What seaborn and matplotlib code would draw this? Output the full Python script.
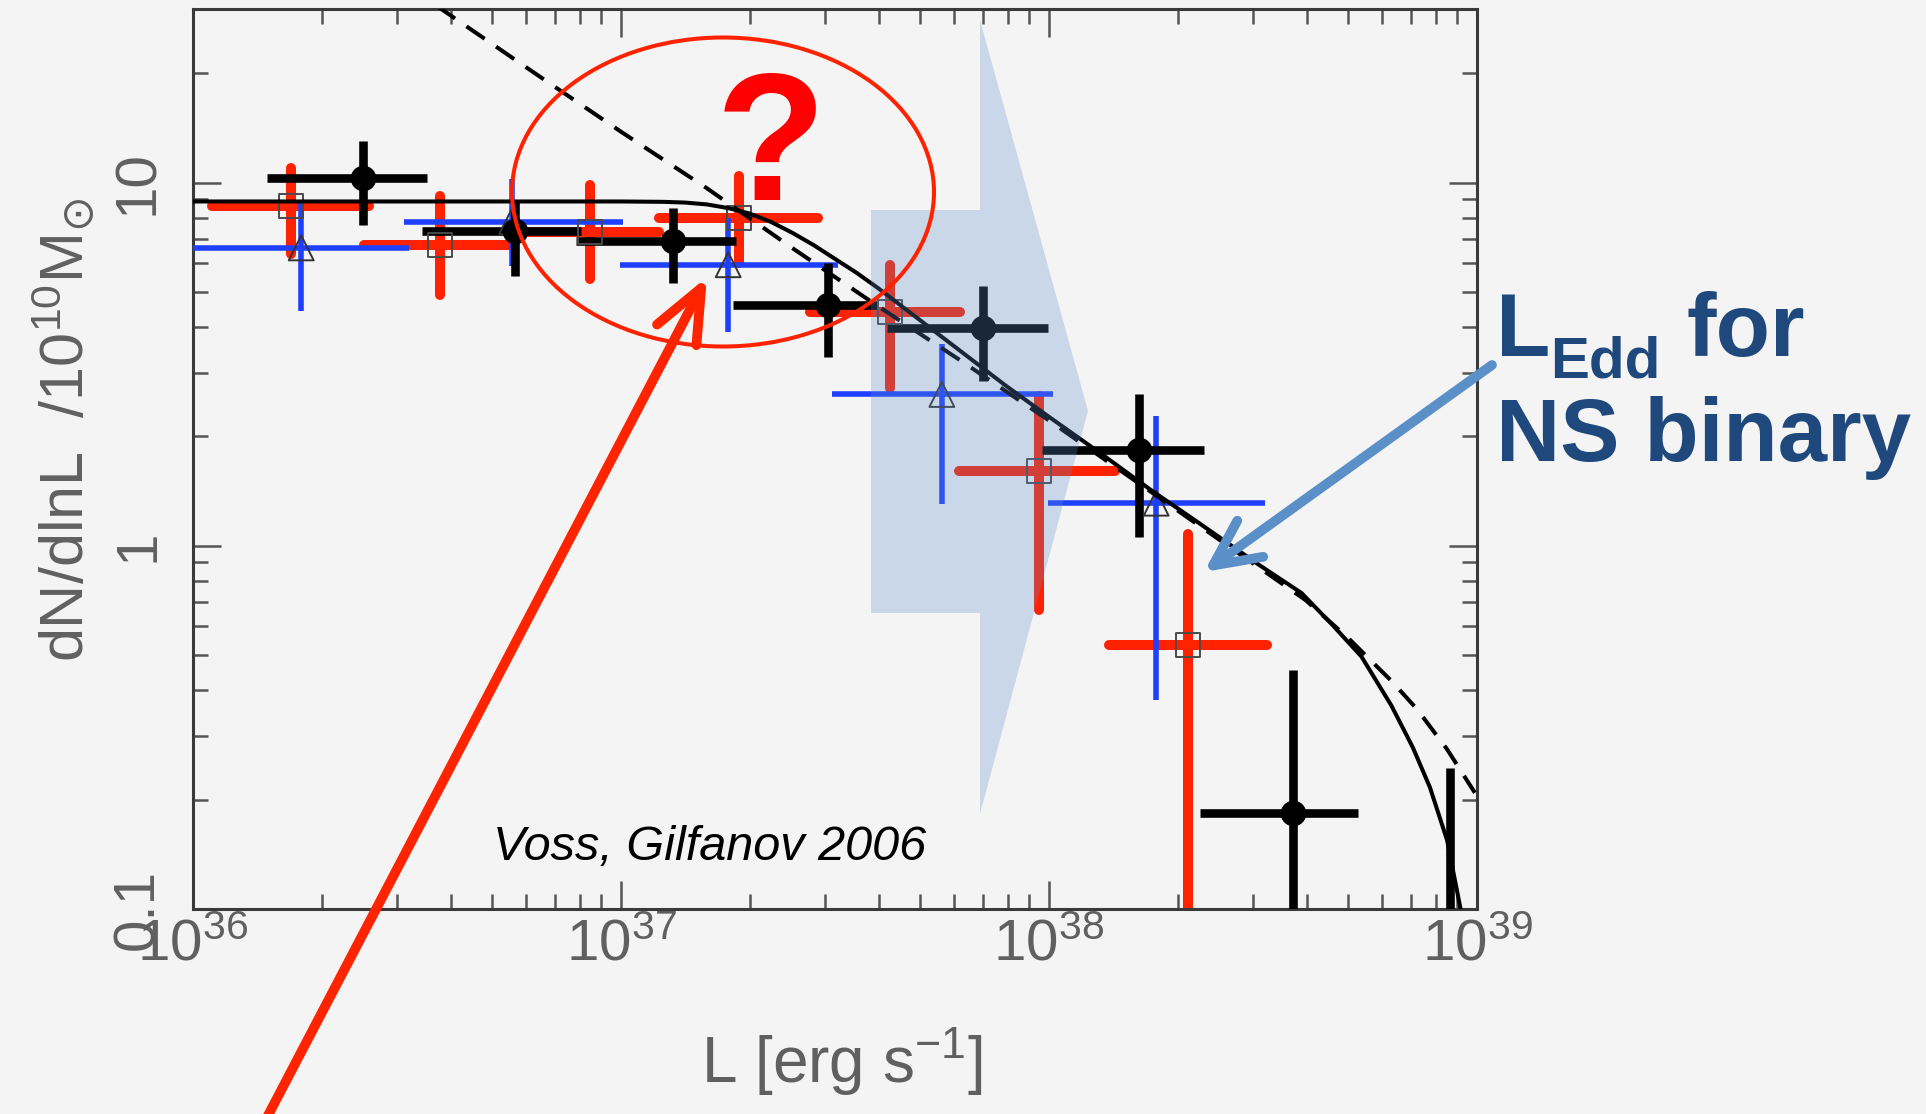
import numpy as np
import pandas as pd
import matplotlib
matplotlib.use("Agg")
import matplotlib.pyplot as plt
import seaborn as sns
from matplotlib.patches import Polygon, Ellipse, FancyArrowPatch
from matplotlib.ticker import LogLocator, NullFormatter

# ---------------- data ----------------
# black filled circles (L [erg/s], dN/dlnL)
bk_L   = [2.50e36, 5.65e36, 1.32e37, 3.05e37, 7.02e37, 1.62e38, 3.72e38]
bk_Llo = [1.49e36, 3.43e36, 7.87e36, 1.83e37, 4.18e37, 9.64e37, 2.25e38]
bk_Lhi = [3.53e36, 8.07e36, 1.86e37, 3.98e37, 9.93e37, 2.30e38, 5.27e38]
bk_y   = [10.3, 7.35, 6.9, 4.61, 3.98, 1.83, 0.184]
bk_ylo = [7.66, 5.52, 5.30, 3.32, 2.84, 1.06, 0.1]
bk_yhi = [13.0, 8.98, 8.51, 6.01, 5.18, 2.61, 0.455]
# black bar without visible point (last bin)
lim_L   = [8.63e38]
lim_ylo = [0.1]
lim_yhi = [0.244]

# red open squares
rd_L   = [1.69e36, 3.78e36, 8.47e36, 1.89e37, 4.25e37, 9.48e37, 2.11e38]
rd_Llo = [1.11e36, 2.51e36, 5.81e36, 1.23e37, 2.77e37, 6.15e37, 1.38e38]
rd_Lhi = [2.58e36, 5.62e36, 1.23e37, 2.88e37, 6.19e37, 1.43e38, 3.23e38]
rd_y   = [8.6, 6.75, 7.3, 8.0, 4.4, 1.61, 0.533]
rd_ylo = [6.34, 4.91, 5.41, 6.01, 2.72, 0.667, 0.1]
rd_yhi = [10.97, 9.17, 9.87, 10.4, 5.94, 2.58, 1.08]

# blue open triangles
bl_L   = [1.79e36, 5.55e36, 1.78e37, 5.62e37, 1.78e38]
bl_Llo = [0.99e36, 3.12e36, 9.95e36, 3.11e37, 9.95e37]
bl_Lhi = [3.20e36, 1.01e37, 3.22e37, 1.02e38, 3.20e38]
bl_y   = [6.61, 7.8, 5.94, 2.61, 1.31]
bl_ylo = [4.42, 5.9, 3.89, 1.30, 0.377]
bl_yhi = [8.81, 10.2, 8.0, 3.6, 2.27]

# model curves, read as log10 values
solid_logL = [36.0, 36.5, 37.0, 37.1, 37.15, 37.2, 37.25, 37.3, 37.35, 37.4, 37.45,
              37.5, 37.55, 37.6, 37.7, 37.8, 37.9, 38.0, 38.12, 38.24, 38.35, 38.49,
              38.59, 38.66, 38.73, 38.8, 38.85, 38.89, 38.93, 38.965]
solid_logy = [0.948, 0.948, 0.948, 0.947, 0.945, 0.940, 0.930, 0.915, 0.892, 0.862, 0.828,
              0.790, 0.752, 0.710, 0.620, 0.530, 0.440, 0.355, 0.255, 0.152, 0.063, -0.052,
              -0.130, -0.215, -0.305, -0.440, -0.555, -0.665, -0.810, -1.02]
dash_logL = [36.57, 36.8, 37.0, 37.2, 37.4, 37.6, 37.8, 38.0, 38.2, 38.4, 38.6, 38.7,
             38.8, 38.86, 38.93, 38.995]
dash_logy = [1.486, 1.300, 1.140, 0.985, 0.820, 0.660, 0.505, 0.345, 0.180, 0.015, -0.150,
             -0.255, -0.372, -0.450, -0.560, -0.680]

xtick_vals = [1e36, 1e37, 1e38, 1e39]
xtick_labels = [r"$\mathregular{10^{36}}$", r"$\mathregular{10^{37}}$",
                r"$\mathregular{10^{38}}$", r"$\mathregular{10^{39}}$"]
ytick_vals = [0.1, 1, 10]
ytick_labels = ["0.1", "1", "10"]

# ---------------- figure ----------------
W, H, DPI = 1926, 1114, 100
BG = "#f4f4f4"
GRAY = "#606060"
SANS = ["Liberation Sans", "DejaVu Sans"]

sns.set_theme(style="ticks")
plt.rcParams["font.family"] = SANS
plt.rcParams["mathtext.fontset"] = "dejavusans"
plt.rcParams["lines.scale_dashes"] = False

fig = plt.figure(figsize=(W / DPI, H / DPI), dpi=DPI, facecolor=BG)


def fx(px):
    return px / W


def fy(py):
    return 1 - py / H


ax = fig.add_axes([fx(193), fy(909), (1477 - 193) / W, (909 - 9.3) / H])
ax.set_facecolor(BG)
ax.set_xscale("log")
ax.set_yscale("log")
ax.set_xlim(1e36, 1e39)
ax.set_ylim(0.1, 30)


def bars(L, Llo, Lhi, y, ylo, yhi, color, lw, cap, z):
    ax.hlines(y, Llo, Lhi, colors=color, linewidth=lw, capstyle=cap, zorder=z)
    ax.vlines(L, ylo, yhi, colors=color, linewidth=lw, capstyle=cap, zorder=z)


RED = "#ff2200"
BLUE = "#1f3fff"
bars(rd_L, rd_Llo, rd_Lhi, rd_y, rd_ylo, rd_yhi, RED, 7.2, "round", 2)
bars(bl_L, bl_Llo, bl_Lhi, bl_y, bl_ylo, bl_yhi, BLUE, 4.0, "butt", 3)
bars(bk_L, bk_Llo, bk_Lhi, bk_y, bk_ylo, bk_yhi, "black", 6.2, "butt", 4)
ax.vlines(lim_L, lim_ylo, lim_yhi, colors="black", linewidth=6.2, zorder=4)

df_rd = pd.DataFrame({"L": rd_L, "y": rd_y})
df_bl = pd.DataFrame({"L": bl_L, "y": bl_y})
df_bk = pd.DataFrame({"L": bk_L, "y": bk_y})
sns.scatterplot(data=df_rd, x="L", y="y", ax=ax, marker="s", s=300,
                facecolor="none", edgecolor="#4a4a4a", linewidth=1.4, zorder=5)
sns.scatterplot(data=df_bl, x="L", y="y", ax=ax, marker="^", s=320,
                facecolor="none", edgecolor="#333333", linewidth=1.4, zorder=5)
sns.scatterplot(data=df_bk, x="L", y="y", ax=ax, marker="o", s=340,
                color="black", edgecolor="black", linewidth=0, zorder=6)

df_solid = pd.DataFrame({"L": 10 ** np.array(solid_logL), "y": 10 ** np.array(solid_logy)})
df_dash = pd.DataFrame({"L": 10 ** np.array(dash_logL), "y": 10 ** np.array(dash_logy)})
sns.lineplot(data=df_solid, x="L", y="y", ax=ax, color="black", linewidth=2.9,
             sort=False, estimator=None, zorder=7)
sns.lineplot(data=df_dash, x="L", y="y", ax=ax, color="black", linewidth=2.9,
             sort=False, estimator=None, zorder=7)
ax.lines[-1].set_linestyle((0, (15.8, 10)))

ax.set_xlim(1e36, 1e39)
ax.set_ylim(0.1, 30)

# ticks
ax.set_xticks(xtick_vals)
ax.set_xticklabels(xtick_labels)
ax.set_yticks(ytick_vals)
ax.set_yticklabels(ytick_labels)
ax.xaxis.set_minor_locator(LogLocator(base=10, subs=np.arange(2, 10)))
ax.yaxis.set_minor_locator(LogLocator(base=10, subs=np.arange(2, 10)))
ax.xaxis.set_minor_formatter(NullFormatter())
ax.yaxis.set_minor_formatter(NullFormatter())
ax.tick_params(which="both", direction="in", top=True, right=True,
               color="#555555", width=1.8)
ax.tick_params(which="major", length=20)
ax.tick_params(which="minor", length=11)
ax.tick_params(axis="x", which="major", labelsize=42, pad=7, labelcolor=GRAY)
ax.tick_params(axis="y", which="major", labelsize=42, pad=20, labelcolor=GRAY,
               labelrotation=90)
for t in ax.get_yticklabels():
    t.set_va("center")

for s in ax.spines.values():
    s.set_color("#3a3a3a")
    s.set_linewidth(2.2)

ax.set_xlabel(r"L [erg s$\mathregular{^{-1}}$]", fontsize=46, color=GRAY)
ax.xaxis.set_label_coords(0.505, -(1026 - 909) / 899.7)
ax.set_ylabel(r"dN/dlnL  /10$\mathregular{^{10}}$M$_{\odot}$", fontsize=44, color=GRAY)
ax.yaxis.set_label_coords(-(193 - 97) / 1284, (909 - 430) / 899.7)

# ---------------- annotations ----------------
fig.text(fx(493), fy(860), "Voss, Gilfanov 2006", fontsize=35, style="italic",
         family=SANS, color="black", ha="left", va="baseline")

arrow_pts = [(871, 210), (980, 210), (980, 20), (1088, 411), (980, 814),
             (980, 613), (871, 613)]
fig.add_artist(Polygon([(fx(x), fy(y)) for x, y in arrow_pts], closed=True,
                       transform=fig.transFigure, facecolor="#5b8dcb",
                       edgecolor="none", alpha=0.28, zorder=10))

fig.add_artist(Ellipse((fx(723), fy(192)), 422 / W, 309 / H,
                       transform=fig.transFigure, fill=False,
                       edgecolor=RED, linewidth=2.9, zorder=11))

fig.text(fx(771), fy(200), "?", fontsize=130, weight="bold",
         family=SANS, color="#ff0000", ha="center", va="baseline", zorder=12)

red_arrow = FancyArrowPatch((fx(263), fy(1125)), (fx(707), fy(277)),
                            transform=fig.transFigure,
                            arrowstyle="->,head_length=1.9,head_width=0.8",
                            mutation_scale=20, color="#ff2400", linewidth=7.0,
                            shrinkA=0, shrinkB=0, capstyle="round",
                            joinstyle="round", zorder=12)
fig.add_artist(red_arrow)

blue_arrow = FancyArrowPatch((fx(1492), fy(365)), (fx(1204), fy(572)),
                             transform=fig.transFigure,
                             arrowstyle="->,head_length=1.65,head_width=0.8",
                             mutation_scale=20, color="#5b8fc8", linewidth=7.0,
                             shrinkA=0, shrinkB=0, capstyle="round",
                             joinstyle="round", zorder=12)
fig.add_artist(blue_arrow)

NAVY = "#1f497d"
bold = dict(weight="bold", family=SANS, color=NAVY, ha="left", va="baseline")
fig.text(fx(1496), fy(356), "L", fontsize=64, **bold)
fig.text(fx(1550), fy(377), "Edd", fontsize=42, **bold)
fig.text(fx(1686), fy(356), "for", fontsize=64, **bold)
fig.text(fx(1496), fy(461), "NS binary", fontsize=64, **bold)

fig.savefig("out.png", dpi=DPI, facecolor=BG)
